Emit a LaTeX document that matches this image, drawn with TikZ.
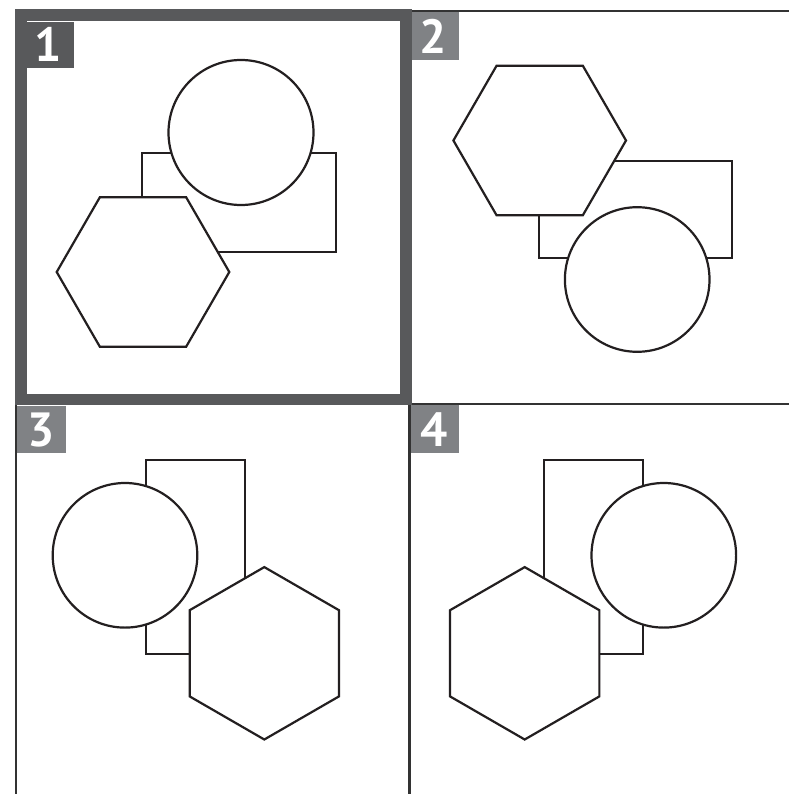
\documentclass[tikz,border=0pt]{standalone}
\usepackage{fontspec}
\setmainfont{PT Sans}
\definecolor{frame}{HTML}{58595B}
\definecolor{labgray}{HTML}{808285}
\definecolor{grid}{HTML}{333333}
\definecolor{ink}{HTML}{231F20}
\tikzset{
  gridline/.style={draw=grid, line width=2.3pt},
  shapeline/.style={draw=ink, fill=white, line width=2.2pt, line join=miter},
  labbox/.style={fill=#1},
  labtext/.style={text=white, font=\fontsize{48}{48}\selectfont\bfseries, inner sep=0pt, anchor=base},
}
\begin{document}
\begin{tikzpicture}[x=1pt,y=-1pt]
\useasboundingbox (0,0) rectangle (789,794);
\fill[white] (0,0) rectangle (789,794);
% grid
\draw[gridline] (16.2,10.7) -- (789,10.7);
\draw[gridline] (16.2,10.7) -- (16.2,794);
\draw[gridline] (409.5,10.7) -- (409.5,794);
\draw[gridline] (16.2,403.7) -- (789,403.7);
% panel 1 thick frame
\draw[draw=frame, line width=11.5pt] (20.8,15.1) rectangle (405.9,399.6);
% labels
\fill[labbox=frame] (26.7,21.7) rectangle (74,67.7);
\node[labtext] (l1) at (48.5,62) {1};
\fill[labbox=labgray] (411.7,12) rectangle (459,60);
\node[labtext] (l2) at (433.5,53.5) {2};
\fill[labbox=labgray] (17.3,406) rectangle (65.7,452.7);
\node[labtext] (l3) at (41,446.5) {3};
\fill[labbox=labgray] (410.7,405) rectangle (459,452.7);
\node[labtext] (l4) at (434,446.5) {4};
% panel 1
\draw[shapeline] (142.3,153.3) rectangle (336,252.3);
\draw[shapeline] (241,132.5) circle[radius=72.5];
\draw[shapeline, shift={(143,272)}] (0:86.3) -- (60:86.3) -- (120:86.3) -- (180:86.3) -- (240:86.3) -- (300:86.3) -- cycle;
% panel 2
\draw[shapeline] (538.7,160.7) rectangle (732.3,258.3);
\draw[shapeline, shift={(539.7,140.5)}] (0:86.3) -- (60:86.3) -- (120:86.3) -- (180:86.3) -- (240:86.3) -- (300:86.3) -- cycle;
\draw[shapeline] (637.2,279.5) circle[radius=72.3];
% panel 3
\draw[shapeline] (146,460.3) rectangle (245,653.7);
\draw[shapeline] (125,555.3) circle[radius=72.3];
\draw[shapeline, shift={(264.3,653.3)}] (30:86.2) -- (90:86.2) -- (150:86.2) -- (210:86.2) -- (270:86.2) -- (330:86.2) -- cycle;
% panel 4
\draw[shapeline] (544,460.3) rectangle (643,653.7);
\draw[shapeline] (663.8,555.3) circle[radius=72.3];
\draw[shapeline, shift={(524.7,653.3)}] (30:86.2) -- (90:86.2) -- (150:86.2) -- (210:86.2) -- (270:86.2) -- (330:86.2) -- cycle;
\end{tikzpicture}
\end{document}
